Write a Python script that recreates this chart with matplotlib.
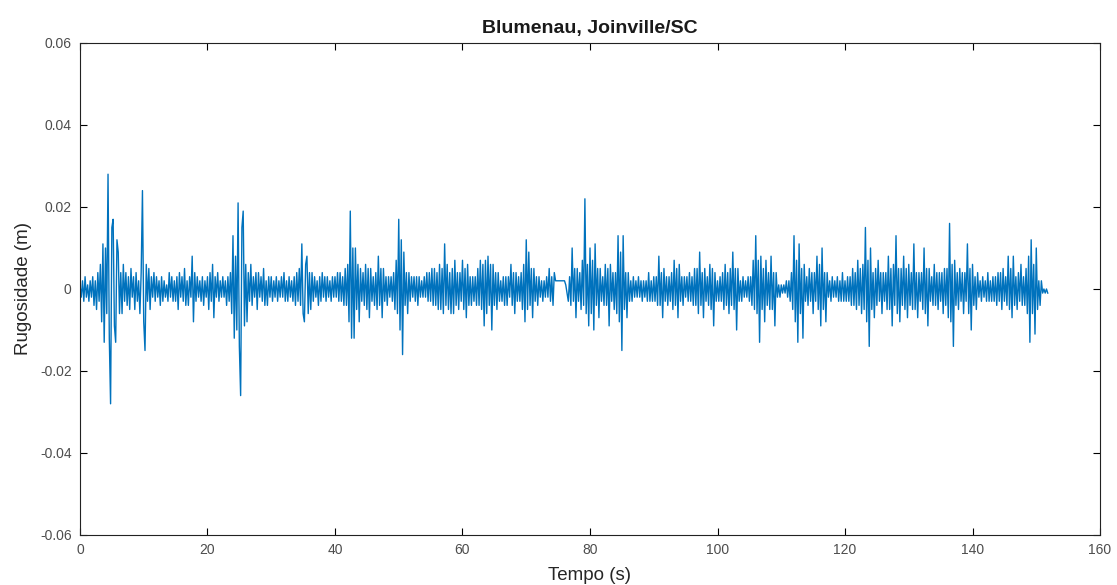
import numpy as np
import matplotlib.pyplot as plt

# sample spacing (s) of the hand-read trace
dt = 0.2

# roughness, in mm, one list per 40 s stretch (10 values = 2 s)
seg_0_40 = [1, -2, 2, -3, 3, -2, 1, -3, 2, -2,
            3, -4, 2, -5, 4, -3, 6, -8, 11, -13,
            10, -6, 28, -12, -28, 15, 17, -9, -13, 12,
            9, -6, 4, -6, 6, -3, 4, -4, 3, -5,
            5, -2, 3, -5, 4, -3, 2, -6, 4, 24,
            -8, -15, 6, -3, 5, -5, 3, -2, 4, -3,
            3, -2, 2, -4, 3, -3, 2, -2, 1, -3,
            4, -2, 3, -3, 2, -3, 3, -5, 4, -2,
            3, -3, 5, -4, 2, -4, 3, -2, 8, -8,
            4, -3, 3, -2, 2, -3, 3, -4, 2, -2,
            3, -5, 4, -3, 6, -7, 3, -2, 4, -3,
            2, -2, 3, -2, 2, -4, 3, -3, 4, -6,
            13, -12, 8, -10, 21, -14, -26, 15, 19, -9,
            6, -8, 4, -3, 6, -4, 3, -2, 4, -5,
            4, -2, 3, -3, 5, -4, 2, -4, 3, -2,
            3, -3, 2, -2, 3, -3, 2, -2, 3, -2,
            4, -3, 2, -3, 3, -2, 2, -3, 3, -4,
            4, -3, 5, -4, 11, -6, -8, 6, 8, -6,
            4, -5, 4, -3, 3, -2, 2, -4, 3, -3,
            4, -2, 3, -3, 3, -2, 2, -3, 3, -2]
seg_40_80 = [3, -2, 4, -3, 4, -3, 3, -4, 5, -4,
             6, -8, 19, -12, 10, -12, 10, -5, 6, -8,
             5, -3, 4, -4, 6, -5, 5, -7, 5, -3,
             3, -4, 4, -5, 8, -4, 5, -7, 5, -3,
             3, -4, 3, -2, 3, -3, 4, -5, 7, -6,
             17, -10, 12, -16, 9, -4, 4, -6, 4, -3,
             3, -2, 3, -3, 3, -4, 3, -2, 2, -2,
             3, -2, 4, -3, 4, -3, 5, -4, 5, -4,
             4, -5, 6, -5, 5, -6, 11, -4, 6, -5,
             4, -6, 5, -6, 7, -4, 4, -5, 4, -3,
             7, -5, 5, -7, 6, -4, 3, -4, 3, -3,
             3, -4, 5, -4, 7, -5, 6, -9, 7, -6,
             8, -4, 6, -10, 6, -4, 4, -5, 4, -3,
             2, -3, 3, -4, 3, -4, 3, -2, 6, -4,
             4, -6, 4, -3, 3, -3, 4, -5, 6, -8,
             12, -5, 9, -4, 5, -7, 5, -3, 3, -4,
             3, -2, 2, -3, 2, -2, 3, -2, 5, -3,
             3, -4, 4, 2, 2, 2, 2, 2, 2, 2,
             2, 1, -1, -3, 3, -4, 10, -3, 5, -7,
             5, -3, 4, -5, 7, -4, 22, -6, 6, -9]
seg_80_120 = [10, -6, 7, -10, 11, -4, 5, -7, 5, -3,
              3, -4, 6, -4, 5, -9, 6, -3, 4, -5,
              4, -6, 13, -8, 9, -15, 13, -5, 4, -7,
              4, -3, 2, -3, 3, -2, 2, -2, 3, -2,
              2, -3, 2, -2, 2, -3, 4, -3, 2, -3,
              3, -3, 3, -4, 8, -4, 4, -7, 5, -3,
              3, -4, 3, -3, 4, -5, 7, -4, 5, -7,
              6, -3, 3, -4, 3, -2, 3, -3, 4, -3,
              3, -4, 5, -4, 5, -6, 9, -4, 4, -7,
              5, -3, 3, -4, 6, -5, 5, -9, 4, -3,
              2, -3, 3, -3, 4, -5, 6, -4, 4, -6,
              5, -4, 9, -5, 5, -10, 5, -3, 2, -3,
              3, -2, 2, -2, 3, -3, 3, -4, 7, -5,
              13, -6, 7, -13, 8, -5, 5, -8, 7, -4,
              4, -5, 8, -5, 4, -9, 4, -2, 1, -2,
              1, -1, 1, -1, 2, -2, 2, -3, 4, -5,
              13, -8, 7, -13, 11, -6, 5, -12, 6, -3,
              3, -4, 5, -3, 4, -6, 4, -3, 8, -5,
              6, -9, 10, -5, 4, -8, 4, -2, 2, -3,
              3, -2, 2, -2, 3, -3, 2, -3, 4, -3]
seg_120_152 = [2, -3, 3, -3, 3, -4, 5, -4, 4, -5,
               7, -4, 5, -6, 6, -5, 15, -8, 7, -14,
               10, -5, 4, -7, 5, -4, 7, -3, 4, -6,
               4, -3, 4, -5, 8, -5, 5, -9, 6, -4,
               13, -6, 5, -8, 5, -4, 8, -5, 5, -7,
               6, -4, 4, -5, 11, -5, 4, -7, 4, -3,
               4, -5, 10, -6, 5, -9, 5, -3, 3, -4,
               6, -4, 4, -5, 4, -3, 4, -6, 5, -4,
               5, -7, 16, -8, 6, -14, 7, -4, 4, -5,
               5, -3, 4, -6, 4, -3, 11, -6, 5, -10,
               6, -4, 3, -5, 4, -2, 2, -3, 3, -2,
               2, -3, 4, -3, 2, -3, 3, -3, 3, -4,
               4, -3, 4, -5, 5, -3, 3, -4, 8, -5,
               5, -7, 8, -4, 3, -5, 4, -3, 6, -4,
               3, -4, 5, -6, 8, -13, 12, -6, 6, -11,
               10, -5, 2, -4, 2, -1, 0, -1, 0, -1]

rough_mm = np.array(seg_0_40 + seg_40_80 + seg_80_120 + seg_120_152, dtype=float)
rough = rough_mm / 1000.0
tempo = np.arange(len(rough)) * dt

x_ticks = [0, 20, 40, 60, 80, 100, 120, 140, 160]
y_ticks = [-0.06, -0.04, -0.02, 0, 0.02, 0.04, 0.06]
y_labels = ["-0.06", "-0.04", "-0.02", "0", "0.02", "0.04", "0.06"]

plt.rcParams['font.family'] = ['Liberation Sans', 'DejaVu Sans']

fig = plt.figure(figsize=(11.17, 5.85), dpi=100)
ax = fig.add_axes([0.0716, 0.0855, 0.9132, 0.841])

ax.plot(tempo, rough, color='#0072BD', linewidth=1.0)

ax.set_xlim(0, 160)
ax.set_ylim(-0.06, 0.06)
ax.set_xticks(x_ticks)
ax.set_yticks(y_ticks)
ax.set_yticklabels(y_labels)
ax.tick_params(direction='in', length=5, width=0.8, top=True, right=True,
               labelsize=10, labelcolor='#4d4d4d', pad=6)
for sp in ax.spines.values():
    sp.set_linewidth(0.8)
    sp.set_color('#222222')

ax.set_title("Blumenau, Joinville/SC", fontsize=14, fontweight='bold',
             color='#1a1a1a', pad=7)
ax.set_xlabel("Tempo (s)", fontsize=13.5, color='#262626', labelpad=7)
ax.set_ylabel("Rugosidade (m)", fontsize=13.5, color='#262626', labelpad=6)

fig.savefig("out.png", dpi=100)
